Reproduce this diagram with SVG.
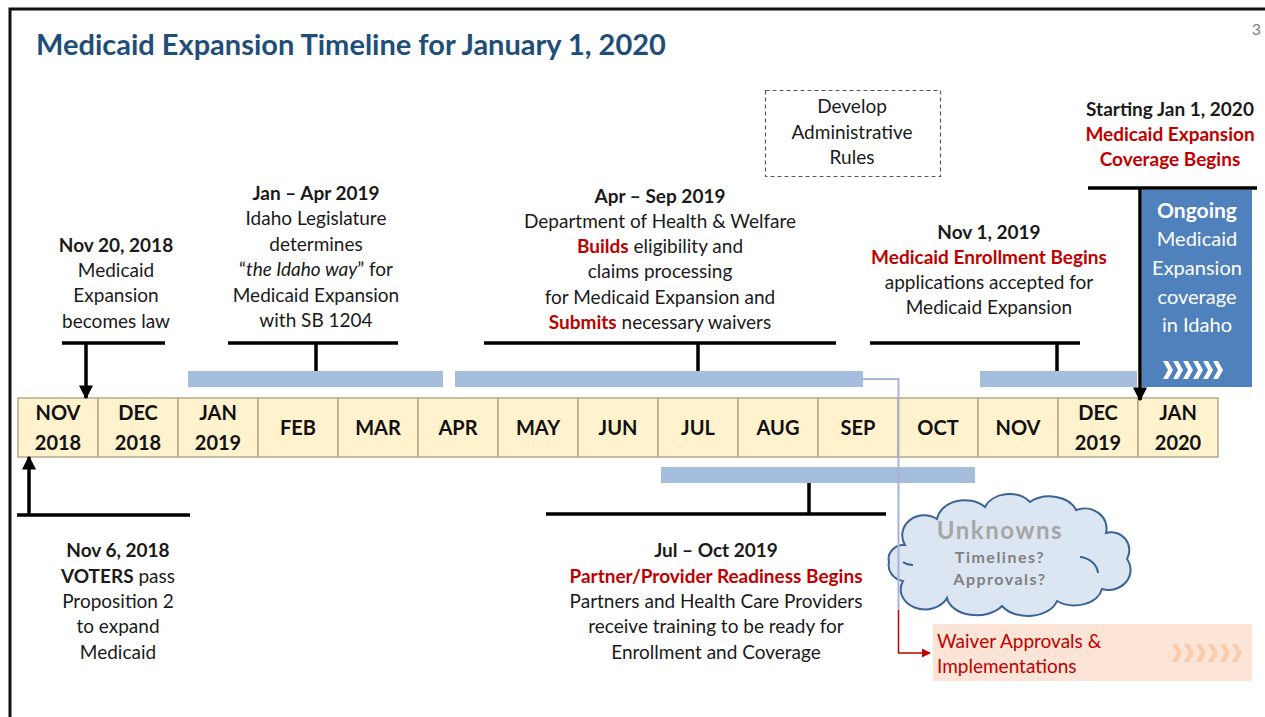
<svg xmlns="http://www.w3.org/2000/svg" width="1265" height="717" viewBox="0 0 1265 717">
  <style>
    text { font-family: Lato, "Open Sans", "Liberation Sans", sans-serif; }
    .t { font-size: 19px; fill: #1a1a1a; text-anchor: middle; }
    .b { font-weight: bold; }
    .r { fill: #C00000; font-weight: bold; }
    .mo { font-size: 20px; font-weight: bold; fill: #111; text-anchor: middle; }
    .cell { fill: #FFF2CC; stroke: #B4A98C; stroke-width: 1.5; }
    .bar { fill: #A6BEDE; }
    .bk { stroke: #000; stroke-width: 3.5; fill: none; }
  </style>
  <defs>
    <marker id="ah" viewBox="0 0 10 10" refX="9" refY="5" markerWidth="4" markerHeight="4" orient="auto-start-reverse" markerUnits="strokeWidth">
      <path d="M0,0 L10,5 L0,10 Z" fill="#000"/>
    </marker>
    <marker id="ahr" viewBox="0 0 10 10" refX="9" refY="5" markerWidth="6" markerHeight="6" orient="auto" markerUnits="strokeWidth">
      <path d="M0,0 L10,5 L0,10 Z" fill="#C00000"/>
    </marker>
    <polygon id="chev" points="0,0 5,0 10,9 5,18 0,18 5,9"/>
  </defs>

  <rect width="1265" height="717" fill="#fff"/>
  <!-- slide frame -->
  <path d="M10,717 V9 H1265" fill="none" stroke="#111" stroke-width="3"/>
  <text x="1261" y="35" font-size="16" fill="#7f7f7f" text-anchor="end">3</text>

  <g id="title">
    <text x="36" y="55" font-size="29" font-weight="bold" fill="#1F4E79">Medicaid Expansion Timeline for January 1, 2020</text>
  </g>

  <!-- month strip -->
  <g id="months">
    <rect class="cell" x="18" y="398" width="80" height="59"/>
    <rect class="cell" x="98" y="398" width="80" height="59"/>
    <rect class="cell" x="178" y="398" width="80" height="59"/>
    <rect class="cell" x="258" y="398" width="80" height="59"/>
    <rect class="cell" x="338" y="398" width="80" height="59"/>
    <rect class="cell" x="418" y="398" width="80" height="59"/>
    <rect class="cell" x="498" y="398" width="80" height="59"/>
    <rect class="cell" x="578" y="398" width="80" height="59"/>
    <rect class="cell" x="658" y="398" width="80" height="59"/>
    <rect class="cell" x="738" y="398" width="80" height="59"/>
    <rect class="cell" x="818" y="398" width="80" height="59"/>
    <rect class="cell" x="898" y="398" width="80" height="59"/>
    <rect class="cell" x="978" y="398" width="80" height="59"/>
    <rect class="cell" x="1058" y="398" width="80" height="59"/>
    <rect class="cell" x="1138" y="398" width="80" height="59"/>
    <text class="mo" x="58" y="420">NOV</text><text class="mo" x="58" y="450">2018</text>
    <text class="mo" x="138" y="420">DEC</text><text class="mo" x="138" y="450">2018</text>
    <text class="mo" x="218" y="420">JAN</text><text class="mo" x="218" y="450">2019</text>
    <text class="mo" x="298" y="435">FEB</text>
    <text class="mo" x="378" y="435">MAR</text>
    <text class="mo" x="458" y="435">APR</text>
    <text class="mo" x="538" y="435">MAY</text>
    <text class="mo" x="618" y="435">JUN</text>
    <text class="mo" x="698" y="435">JUL</text>
    <text class="mo" x="778" y="435">AUG</text>
    <text class="mo" x="858" y="435">SEP</text>
    <text class="mo" x="938" y="435">OCT</text>
    <text class="mo" x="1018" y="435">NOV</text>
    <text class="mo" x="1098" y="420">DEC</text><text class="mo" x="1098" y="450">2019</text>
    <text class="mo" x="1178" y="420">JAN</text><text class="mo" x="1178" y="450">2020</text>
  </g>

  <!-- duration bars -->
  <g id="bars">
    <rect class="bar" x="188" y="371" width="255" height="16"/>
    <rect class="bar" x="455" y="371" width="408" height="16"/>
    <rect class="bar" x="980" y="371" width="157" height="16"/>
    <rect class="bar" x="661" y="467" width="314" height="16"/>
  </g>

  <g id="ongoing">
    <rect x="1142" y="190" width="110" height="197" fill="#4F81BD"/>
    <text x="1197" y="218" font-size="21" font-weight="bold" fill="#fff" text-anchor="middle">Ongoing</text>
    <text x="1197" y="246" font-size="20" fill="#fff" text-anchor="middle">Medicaid</text>
    <text x="1197" y="275" font-size="20" fill="#fff" text-anchor="middle">Expansion</text>
    <text x="1197" y="304" font-size="20" fill="#fff" text-anchor="middle">coverage</text>
    <text x="1197" y="332" font-size="20" fill="#fff" text-anchor="middle">in Idaho</text>
    <g fill="#fff">
      <use href="#chev" x="1163" y="361"/>
      <use href="#chev" x="1173" y="361"/>
      <use href="#chev" x="1183" y="361"/>
      <use href="#chev" x="1193" y="361"/>
      <use href="#chev" x="1203" y="361"/>
      <use href="#chev" x="1213" y="361"/>
    </g>
  </g>

  <g id="cloud">
    <path d="M905,545 A22,20 0 0 1 937,519 A28,22 0 0 1 985,507 A26,20 0 0 1 1030,502 A28,20 0 0 1 1076,510 A22,20 0 0 1 1106,533 A18,18 0 0 1 1127,559 A22,20 0 0 1 1102,589 A28,20 0 0 1 1057,601 A30,20 0 0 1 1002,606 A30,20 0 0 1 947,598 A22,18 0 0 1 903,581 A18,16 0 0 1 889,562 A15,14 0 0 1 905,545 Z" fill="#DCE6F2" stroke="#3A6495" stroke-width="2"/>
    <path d="M1080,557 A20,18 0 0 1 1098,573" fill="none" stroke="#3A6495" stroke-width="2"/>
    <path d="M903,562 A16,14 0 0 0 913,565" fill="none" stroke="#3A6495" stroke-width="2"/>
    <text x="1000" y="539" font-size="24" font-weight="bold" fill="#A6A6A6" text-anchor="middle" letter-spacing="1.5">Unknowns</text>
    <text x="1000" y="563" font-size="16" font-weight="bold" fill="#808080" text-anchor="middle" letter-spacing="1.5">Timelines?</text>
    <text x="1000" y="585" font-size="16" font-weight="bold" fill="#808080" text-anchor="middle" letter-spacing="1.5">Approvals?</text>
  </g>

  <g id="waiver">
    <rect x="933" y="624" width="319" height="57" fill="#FCE4D6"/>
    <text x="937" y="648" font-size="19" fill="#C00000">Waiver Approvals &amp;</text>
    <text x="937" y="673" font-size="19" fill="#C00000">Implementations</text>
    <g fill="#F8CBAD">
      <use href="#chev" x="1172" y="644"/>
      <use href="#chev" x="1184" y="644"/>
      <use href="#chev" x="1196" y="644"/>
      <use href="#chev" x="1208" y="644"/>
      <use href="#chev" x="1220" y="644"/>
      <use href="#chev" x="1232" y="644"/>
    </g>
  </g>

  <g id="admin-rules">
    <rect x="765.5" y="90.5" width="175" height="86" fill="none" stroke="#595959" stroke-width="1.2" stroke-dasharray="4,3"/>
    <text class="t" x="852" y="113">Develop</text>
    <text class="t" x="852" y="139">Administrative</text>
    <text class="t" x="852" y="164">Rules</text>
  </g>

  <g id="nov20-2018">
    <text class="t b" x="116" y="252">Nov 20, 2018</text>
    <text class="t" x="116" y="277">Medicaid</text>
    <text class="t" x="116" y="302">Expansion</text>
    <text class="t" x="116" y="328">becomes law</text>
  </g>

  <g id="jan-apr-2019">
    <text class="t b" x="316" y="200">Jan – Apr 2019</text>
    <text class="t" x="316" y="225">Idaho Legislature</text>
    <text class="t" x="316" y="251">determines</text>
    <text class="t" x="316" y="276">“<tspan font-style="italic">the Idaho way</tspan>” for</text>
    <text class="t" x="316" y="302">Medicaid Expansion</text>
    <text class="t" x="316" y="327">with SB 1204</text>
  </g>

  <g id="apr-sep-2019">
    <text class="t b" x="660" y="203">Apr – Sep 2019</text>
    <text class="t" x="660" y="228">Department of Health &amp; Welfare</text>
    <text class="t" x="660" y="253"><tspan class="r">Builds</tspan> eligibility and</text>
    <text class="t" x="660" y="278">claims processing</text>
    <text class="t" x="660" y="304">for Medicaid Expansion and</text>
    <text class="t" x="660" y="329"><tspan class="r">Submits</tspan> necessary waivers</text>
  </g>

  <g id="nov1-2019">
    <text class="t b" x="989" y="239">Nov 1, 2019</text>
    <text class="t r" x="989" y="264">Medicaid Enrollment Begins</text>
    <text class="t" x="989" y="289">applications accepted for</text>
    <text class="t" x="989" y="314">Medicaid Expansion</text>
  </g>

  <g id="jan1-2020">
    <text class="t b" x="1170" y="116">Starting Jan 1, 2020</text>
    <text class="t r" x="1170" y="141">Medicaid Expansion</text>
    <text class="t r" x="1170" y="166">Coverage Begins</text>
  </g>

  <g id="nov6-2018">
    <text class="t b" x="118" y="557">Nov 6, 2018</text>
    <text class="t" x="118" y="583"><tspan font-weight="bold">VOTERS</tspan> pass</text>
    <text class="t" x="118" y="608">Proposition 2</text>
    <text class="t" x="118" y="633">to expand</text>
    <text class="t" x="118" y="659">Medicaid</text>
  </g>

  <g id="jul-oct-2019">
    <text class="t b" x="716" y="557">Jul – Oct 2019</text>
    <text class="t r" x="716" y="583">Partner/Provider Readiness Begins</text>
    <text class="t" x="716" y="608">Partners and Health Care Providers</text>
    <text class="t" x="716" y="633">receive training to be ready for</text>
    <text class="t" x="716" y="659">Enrollment and Coverage</text>
  </g>

  <!-- brackets and leaders -->
  <g id="connectors">
    <path class="bk" d="M62,343 H165"/>
    <path class="bk" d="M86,343 V398" marker-end="url(#ah)"/>
    <path class="bk" d="M228,343 H398 M316,343 V371"/>
    <path class="bk" d="M484,343 H836 M698,343 V371"/>
    <path class="bk" d="M870,343 H1080 M1057,343 V371"/>
    <path class="bk" d="M1088,188 H1257"/>
    <path class="bk" d="M1140,188 V400" marker-end="url(#ah)"/>
    <path class="bk" d="M17,515 H190"/>
    <path class="bk" d="M29,515 V457" marker-end="url(#ah)"/>
    <path class="bk" d="M546,514 H886 M809,483 V514"/>
    <path d="M863,379 H898.5 V610" fill="none" stroke="#A8B4D6" stroke-width="2"/>
    <path d="M898.5,610 V653 H930" fill="none" stroke="#C00000" stroke-width="1.5" marker-end="url(#ahr)"/>
  </g>
</svg>
